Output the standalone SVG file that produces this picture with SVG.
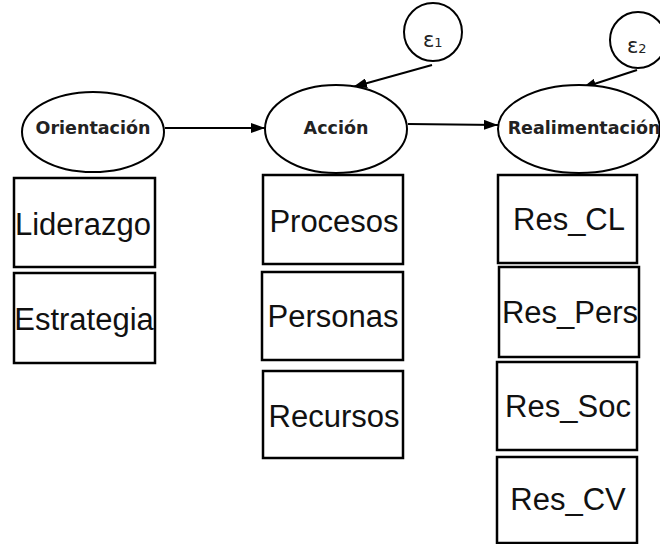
<svg xmlns="http://www.w3.org/2000/svg" width="660" height="544" viewBox="0 0 660 544">
  <style>
    .shape { fill: #ffffff; stroke: #000000; stroke-width: 2; }
    .box { fill: #ffffff; stroke: #000000; stroke-width: 2.5; }
    .latent { font-family: "DejaVu Sans", Verdana, sans-serif; font-weight: bold; font-size: 17.5px; fill: #222222; text-anchor: middle; }
    .observed { font-family: "Liberation Sans", Arial, sans-serif; font-size: 31px; fill: #111111; text-anchor: middle; }
    .err { font-family: "DejaVu Sans", Verdana, sans-serif; font-size: 21px; fill: #222222; }
    .edge { stroke: #000000; stroke-width: 2; fill: none; marker-end: url(#arrow); }
  </style>
  <defs>
    <marker id="arrow" viewBox="0 0 14 10" refX="14" refY="5" markerWidth="14" markerHeight="10" markerUnits="userSpaceOnUse" orient="auto">
      <path d="M0,0 L14,5 L0,10 Z" fill="#000000"/>
    </marker>
  </defs>
  <rect width="660" height="544" fill="#ffffff"/>

  <g id="connectors">
    <line class="edge" x1="165" y1="128" x2="265" y2="128"/>
    <line class="edge" x1="408" y1="124" x2="498" y2="125"/>
    <line class="edge" x1="432" y1="65" x2="353" y2="87"/>
    <line class="edge" x1="637" y1="70" x2="582" y2="88"/>
  </g>

  <g id="orientacion">
    <ellipse class="shape" cx="93" cy="132" rx="71" ry="40"/>
    <text class="latent" x="93" y="134">Orientación</text>
  </g>
  <g id="accion">
    <ellipse class="shape" cx="336" cy="129" rx="71" ry="44"/>
    <text class="latent" x="336" y="134">Acción</text>
  </g>
  <g id="realimentacion">
    <ellipse class="shape" cx="579" cy="129" rx="81" ry="44"/>
    <text class="latent" x="584" y="134">Realimentación</text>
  </g>

  <g id="e1">
    <circle class="shape" cx="433" cy="32" r="29"/>
    <text class="err" x="423" y="47">ε<tspan font-size="13">1</tspan></text>
  </g>
  <g id="e2">
    <circle class="shape" cx="638" cy="40" r="28"/>
    <text class="err" x="627" y="53">ε<tspan font-size="13">2</tspan></text>
  </g>

  <g id="liderazgo">
    <rect class="box" x="14" y="178" width="141" height="89"/>
    <text class="observed" x="83" y="235">Liderazgo</text>
  </g>
  <g id="estrategia">
    <rect class="box" x="14" y="273" width="141" height="90"/>
    <text class="observed" x="84" y="330">Estrategia</text>
  </g>

  <g id="procesos">
    <rect class="box" x="263" y="175" width="140" height="89"/>
    <text class="observed" x="334" y="232">Procesos</text>
  </g>
  <g id="personas">
    <rect class="box" x="262" y="272" width="141" height="88"/>
    <text class="observed" x="333" y="327">Personas</text>
  </g>
  <g id="recursos">
    <rect class="box" x="263" y="371" width="140" height="87"/>
    <text class="observed" x="334" y="427">Recursos</text>
  </g>

  <g id="res_cl">
    <rect class="box" x="498" y="175" width="139" height="88"/>
    <text class="observed" x="569" y="230">Res_CL</text>
  </g>
  <g id="res_pers">
    <rect class="box" x="499" y="267" width="140" height="90"/>
    <text class="observed" x="570" y="323">Res_Pers</text>
  </g>
  <g id="res_soc">
    <rect class="box" x="497" y="362" width="140" height="88"/>
    <text class="observed" x="568" y="417">Res_Soc</text>
  </g>
  <g id="res_cv">
    <rect class="box" x="497" y="457" width="140" height="86"/>
    <text class="observed" x="568" y="510">Res_CV</text>
  </g>
</svg>
